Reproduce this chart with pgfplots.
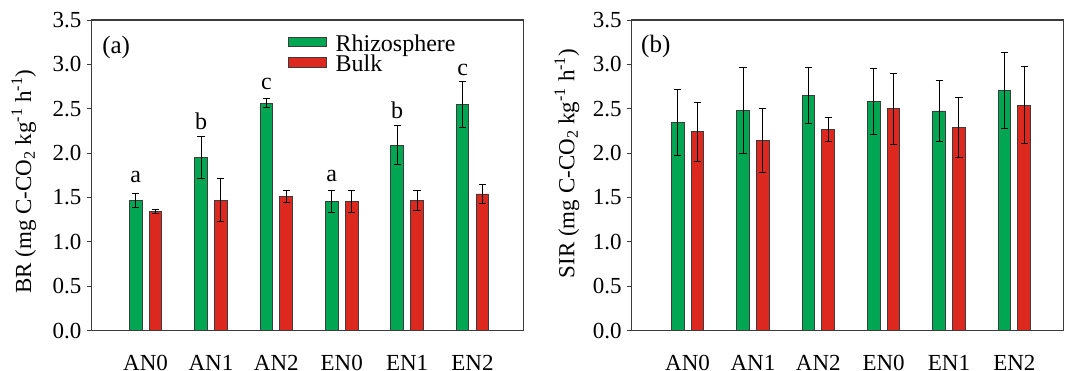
\documentclass[border=0pt]{standalone}
\usepackage{fontspec}
\setmainfont{Liberation Serif}
\usepackage{pgfplots}
\pgfplotsset{compat=1.18}
\definecolor{rhizo}{RGB}{0,166,81}
\definecolor{bulk}{RGB}{220,40,30}
\definecolor{edge}{RGB}{60,60,60}
\pgfplotsset{
  panel/.style={
    scale only axis, width=432pt, height=310.7pt,
    ymin=0, ymax=3.5,
    ytick={0,0.5,1,1.5,2,2.5,3,3.5},
    yticklabels={0.0,0.5,1.0,1.5,2.0,2.5,3.0,3.5},
    xtick={0,1,2,3,4,5},
    xticklabels={AN0,AN1,AN2,EN0,EN1,EN2},
    tick align=outside, ytick pos=left, xtick pos=bottom,
    major tick length=5pt,
    major x tick style={draw=none},
    every tick/.style={edge, line width=0.9pt},
    axis line style={edge, line width=1.1pt},
    ticklabel style={font=\fontsize{23}{26}\selectfont},
    xticklabel style={inner sep=0pt, anchor=north, yshift=-19pt},
    yticklabel style={inner sep=0pt, anchor=east, xshift=-5pt},
    bar width=12.7pt,
    error bars/y dir=both, error bars/y explicit,
    error bars/error bar style={black, line width=0.9pt},
    error bars/error mark options={rotate=90, mark size=3.6pt, line width=0.9pt, black},
  },
  gbar/.style={ybar, bar shift=0pt, fill=rhizo, draw=edge, line width=0.9pt},
  rbar/.style={ybar, bar shift=0pt, fill=bulk, draw=edge, line width=0.9pt},
}
\begin{document}
\begin{tikzpicture}
\useasboundingbox (0,0) rectangle (1066pt,370pt);
% ---------- (a) BR ----------
\begin{axis}[panel, at={(91.7pt,39.3pt)}, anchor=south west,
  xmin=-0.823, xmax=5.783,
  ylabel={BR (mg C-CO\textsubscript{2} kg\textsuperscript{-1} h\textsuperscript{-1})},
  every axis y label/.style={at={(axis description cs:-0.157,0.48)}, rotate=90, anchor=center, font=\fontsize{23}{26}\selectfont},
  legend style={at={(axis description cs:0.4528,0.946)}, anchor=north west,
    draw=none, fill=none, inner sep=0pt, row sep=0pt,
    font=\fontsize{24}{20}\selectfont,
    nodes={inner sep=0pt, text height=14pt, text depth=6pt},
    /tikz/every odd column/.append style={column sep=8.5pt}},
  legend cell align=left,
  legend image code/.code={\draw[#1] (0pt,0.5pt) rectangle (38.7pt,10pt);},
]
\addplot[gbar] coordinates {(-0.1514,1.47) +- (0,0.08) (0.8486,1.95) +- (0,0.24) (1.8486,2.565) +- (0,0.055) (2.8486,1.455) +- (0,0.12) (3.8486,2.09) +- (0,0.22) (4.8486,2.545) +- (0,0.26)};
\addplot[rbar] coordinates {(0.1514,1.343) +- (0,0.02) (1.1514,1.47) +- (0,0.24) (2.1514,1.51) +- (0,0.07) (3.1514,1.455) +- (0,0.12) (4.1514,1.47) +- (0,0.11) (5.1514,1.54) +- (0,0.11)};
\legend{Rhizosphere, Bulk}
\node[anchor=west, font=\fontsize{25}{28}\selectfont, inner sep=0pt] at (axis description cs:0.024,0.91) {(a)};
\begin{scope}[every node/.style={anchor=base, inner sep=0pt, font=\fontsize{24}{26}\selectfont}]
\node at (axis cs:-0.1514,1.675) {a};
\node at (axis cs:0.8486,2.27) {b};
\node at (axis cs:1.8486,2.72) {c};
\node at (axis cs:2.8486,1.68) {a};
\node at (axis cs:3.8486,2.39) {b};
\node at (axis cs:4.8486,2.88) {c};
\end{scope}
\end{axis}
% ---------- (b) SIR ----------
\begin{axis}[panel, at={(631.7pt,39.3pt)}, anchor=south west,
  xmin=-0.855, xmax=5.755,
  ylabel={SIR (mg C-CO\textsubscript{2} kg\textsuperscript{-1} h\textsuperscript{-1})},
  every axis y label/.style={at={(axis description cs:-0.15,0.538)}, rotate=90, anchor=center, font=\fontsize{23}{26}\selectfont},
]
\addplot[gbar] coordinates {(-0.1514,2.347) +- (0,0.375) (0.8486,2.48) +- (0,0.48) (1.8486,2.647) +- (0,0.315) (2.8486,2.58) +- (0,0.37) (3.8486,2.475) +- (0,0.345) (4.8486,2.707) +- (0,0.43)};
\addplot[rbar] coordinates {(0.1514,2.24) +- (0,0.33) (1.1514,2.144) +- (0,0.36) (2.1514,2.268) +- (0,0.135) (3.1514,2.50) +- (0,0.40) (4.1514,2.29) +- (0,0.34) (5.1514,2.54) +- (0,0.435)};
\node[anchor=west, font=\fontsize{25}{28}\selectfont, inner sep=0pt] at (axis description cs:0.0215,0.916) {(b)};
\end{axis}
\end{tikzpicture}
\end{document}
